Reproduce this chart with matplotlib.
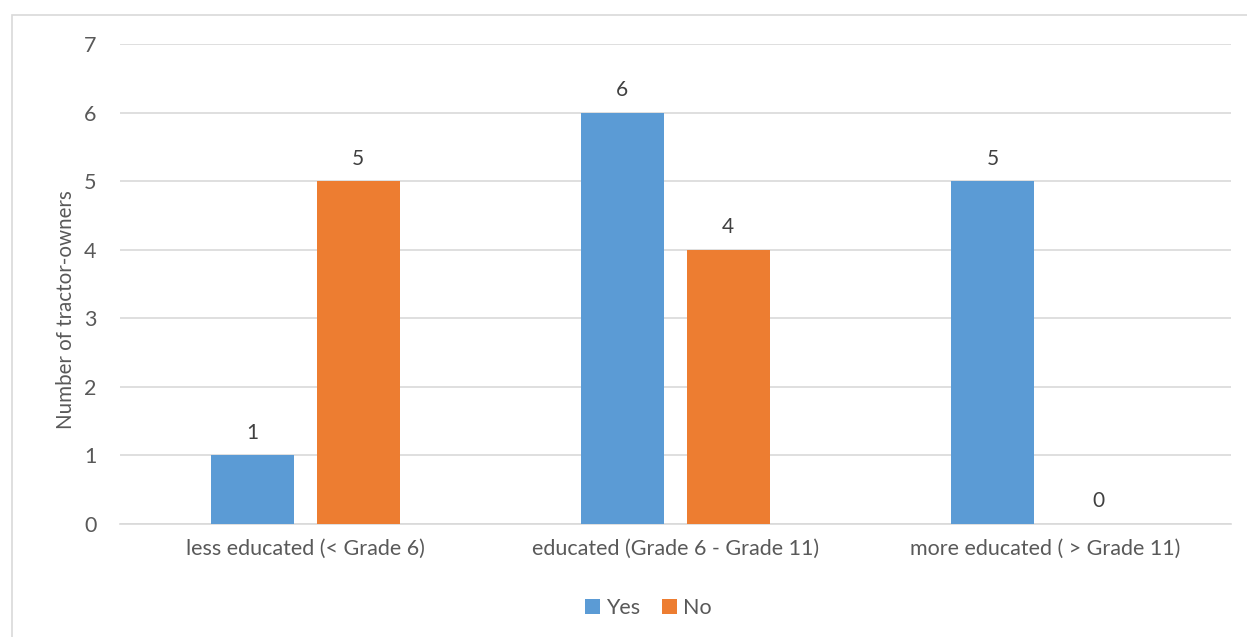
import matplotlib.pyplot as plt
from matplotlib.patches import Rectangle
import numpy as np

# Education level vs tractor ownership
categories = ['less educated (< Grade 6)', 'educated (Grade 6 - Grade 11)', 'more educated ( > Grade 11)']
yes_counts = [1, 6, 5]
no_counts = [5, 4, 0]

plt.rcParams['font.family'] = ['Lato', 'DejaVu Sans']
text_color = '#595959'
blue = '#5B9BD5'
orange = '#ED7D31'

fig = plt.figure(figsize=(12.47, 6.37), dpi=100)
ax = fig.add_axes([0.0962, 0.1774, 0.8908, 0.7535])

x = np.arange(len(categories))
width = 0.224
offset = 0.143
bars_yes = ax.bar(x - offset, yes_counts, width, color=blue, label='Yes', zorder=3)
bars_no = ax.bar(x + offset, no_counts, width, color=orange, label='No', zorder=3)

# value labels above each bar
for bars in (bars_yes, bars_no):
    for b in bars:
        h = b.get_height()
        ax.annotate(f'{h:g}', (b.get_x() + b.get_width() / 2, h), xytext=(0, 9),
                    textcoords='offset points', ha='center', va='bottom',
                    fontsize=15, color='#404040')

ax.set_xlim(-0.5, 2.5)
ax.set_ylim(0, 7)
ax.set_yticks(range(0, 8))
ax.set_xticks(x)
ax.set_xticklabels(categories)
ax.tick_params(axis='both', length=0, labelsize=15.5, colors=text_color)
ax.tick_params(axis='x', pad=11)
ax.tick_params(axis='y', pad=17)
ax.set_ylabel('Number of tractor-owners', fontsize=14.8, color=text_color, labelpad=6)
ax.yaxis.label.set_y(0.446)

ax.grid(axis='y', color='#D9D9D9', linewidth=1.2, zorder=0)
for side in ('top', 'right', 'left'):
    ax.spines[side].set_visible(False)
ax.spines['bottom'].set_color('#D9D9D9')
ax.spines['bottom'].set_linewidth(1.2)

leg = fig.legend(loc='center', bbox_to_anchor=(0.52, 0.045), ncol=2, frameon=False,
                 fontsize=15.5, handlelength=0.7, handleheight=0.7, handletextpad=0.3,
                 columnspacing=1.0)
for t in leg.get_texts():
    t.set_color(text_color)

# chart border
fig.patches.append(Rectangle((12 / 1247, -0.1), 1.2, 1 - 15 / 637 + 0.1,
                             transform=fig.transFigure, fill=False,
                             edgecolor='#D9D9D9', linewidth=1.2))

fig.savefig('out.png', dpi=100)
